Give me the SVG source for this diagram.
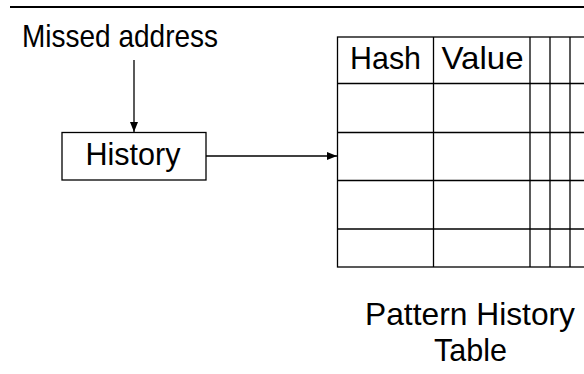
<svg xmlns="http://www.w3.org/2000/svg" width="584" height="374" viewBox="0 0 584 374">
<defs>
<style>
text{font-size:32px;fill:#000}
.ln{stroke:#000;stroke-width:1.3;fill:none}
.box{stroke:#000;stroke-width:1.3;fill:#fff}
</style>
<marker id="ah" markerWidth="10" markerHeight="8" refX="10" refY="4" orient="auto" markerUnits="userSpaceOnUse">
<path d="M0,0 L10,4 L0,8 Z" fill="#000"/>
</marker>
</defs>
<rect width="584" height="374" fill="#fff"/>
<line x1="10" y1="7" x2="584" y2="7" stroke="#000" stroke-width="2"/>
<g font-family="'Liberation Sans', Arial, Helvetica, sans-serif">
<g id="missed">
<text x="22" y="46.5" textLength="196" lengthAdjust="spacingAndGlyphs">Missed address</text>
</g>
<g id="history">
<rect class="box" x="62" y="132.5" width="144" height="47.5"/>
<text x="85.5" y="164.5" textLength="95" lengthAdjust="spacingAndGlyphs">History</text>
</g>
<g id="pht">
<rect class="box" x="337.5" y="37" width="260" height="230"/>
<line class="ln" x1="337.5" y1="83.5" x2="584" y2="83.5"/>
<line class="ln" x1="337.5" y1="132.5" x2="584" y2="132.5"/>
<line class="ln" x1="337.5" y1="180.5" x2="584" y2="180.5"/>
<line class="ln" x1="337.5" y1="229" x2="584" y2="229"/>
<line class="ln" x1="433.5" y1="37" x2="433.5" y2="267"/>
<line class="ln" x1="530" y1="37" x2="530" y2="267"/>
<line class="ln" x1="550" y1="37" x2="550" y2="267"/>
<line class="ln" x1="570" y1="37" x2="570" y2="267"/>
<text x="350" y="69.3" textLength="71" lengthAdjust="spacingAndGlyphs">Hash</text>
<text x="441.5" y="69.3" textLength="82" lengthAdjust="spacingAndGlyphs">Value</text>
<text x="365" y="325" textLength="210" lengthAdjust="spacingAndGlyphs">Pattern History</text>
<text x="434" y="360.5" textLength="73" lengthAdjust="spacingAndGlyphs">Table</text>
</g>
</g>
<g id="connectors">
<line class="ln" x1="134" y1="60" x2="134" y2="132" marker-end="url(#ah)"/>
<line class="ln" x1="206" y1="156" x2="337" y2="156" marker-end="url(#ah)"/>
</g>
</svg>
